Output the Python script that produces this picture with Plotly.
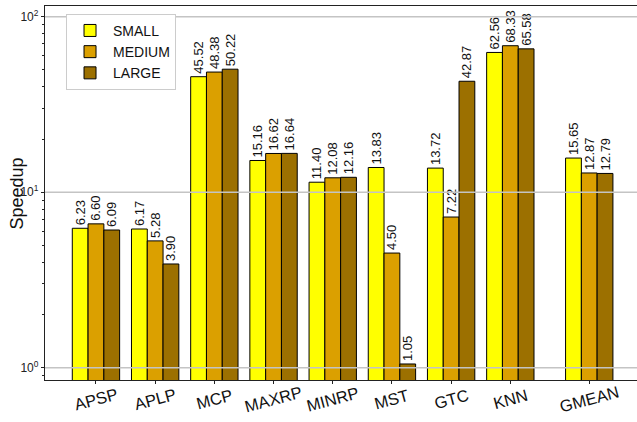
import plotly.graph_objects as go

categories = ["APSP", "APLP", "MCP", "MAXRP", "MINRP", "MST", "GTC", "KNN", "GMEAN"]
small = [6.23, 6.17, 45.52, 15.16, 11.40, 13.83, 13.72, 62.56, 15.65]
medium = [6.60, 5.28, 48.38, 16.62, 12.08, 4.50, 7.22, 68.33, 12.87]
large = [6.09, 3.90, 50.22, 16.64, 12.16, 1.05, 42.87, 65.58, 12.79]
series_names = ["SMALL", "MEDIUM", "LARGE"]
y_ticks = [1, 10, 100]
y_ticktext = ["10<sup>0</sup>", "10<sup>1</sup>", "10<sup>2</sup>"]

colors = ["#FFFF00", "#DBA000", "#9C7000"]
FONT = "Liberation Sans, Arial, sans-serif"

# category positions (GMEAN separated by a small gap)
xpos = list(range(len(categories) - 1)) + [len(categories) - 1 + 1 / 3]
x_range = [-0.861, 9.14]

fig = go.Figure()
for name, vals, col in zip(series_names, [small, medium, large], colors):
    fig.add_trace(go.Bar(
        x=xpos, y=vals, name=name,
        marker=dict(color=col, line=dict(color="black", width=1)),
        text=[f"{v:.2f}" for v in vals],
        textposition="outside", textangle=-90,
        constraintext="none", cliponaxis=False,
        outsidetextfont=dict(family=FONT, size=13, color="#111"),
        textfont=dict(family=FONT, size=13, color="#111"),
    ))

# gridlines drawn above bars
gx, gy = [], []
for t in y_ticks:
    gx += [x_range[0], x_range[1], None]
    gy += [t, t, None]
fig.add_trace(go.Scatter(x=gx, y=gy, mode="lines", showlegend=False,
                         line=dict(color="#c4c4c4", width=1.4), hoverinfo="skip"))

minor_vals = [m * d for d in [0.1, 1, 10] for m in range(2, 10)]

fig.update_layout(
    width=637, height=422,
    margin=dict(l=45, r=0, t=6, b=42, autoexpand=False),
    paper_bgcolor="white", plot_bgcolor="white",
    barmode="group", bargap=0.2, bargroupgap=0,
    font=dict(family=FONT, color="#222"),
    legend=dict(
        x=0.0355, y=0.979, xanchor="left", yanchor="top",
        bgcolor="white", bordercolor="#cccccc", borderwidth=1,
        font=dict(size=14, family=FONT, color="#111"),
        itemwidth=36,
    ),
    showlegend=True,
)

fig.update_xaxes(
    range=x_range, tickvals=xpos, showticklabels=False,
    showgrid=False, zeroline=False, automargin=False,
    showline=True, linecolor="#222", linewidth=1.3, mirror=True,
    ticks="outside", ticklen=3, tickcolor="#222",
)
fig.update_yaxes(
    type="log", range=[-0.0701, 2.061], automargin=False,
    tickvals=y_ticks, ticktext=y_ticktext,
    tickfont=dict(size=12, family=FONT, color="#222"),
    showgrid=False, zeroline=False,
    showline=True, linecolor="#222", linewidth=1.3,
    ticks="outside", ticklen=3, tickcolor="#222",
    minor=dict(tickvals=minor_vals, ticks="outside", ticklen=2, tickcolor="#222", showgrid=False),
)

fig.add_annotation(
    x=-0.0465, y=0.5, xref="paper", yref="paper", text="Speedup", showarrow=False,
    xanchor="center", yanchor="middle", textangle=-90,
    font=dict(size=18, family=FONT, color="#111"),
)

for xp, c in zip(xpos, categories):
    fig.add_annotation(
        x=xp, y=0, xref="x", yref="paper", text=c, showarrow=False,
        xanchor="center", yanchor="middle", yshift=-19, textangle=-15,
        font=dict(size=16.5, family=FONT, color="#111"),
    )

fig.write_html("out.html", config={"displayModeBar": False},
               post_script="document.body.style.margin='0';")
